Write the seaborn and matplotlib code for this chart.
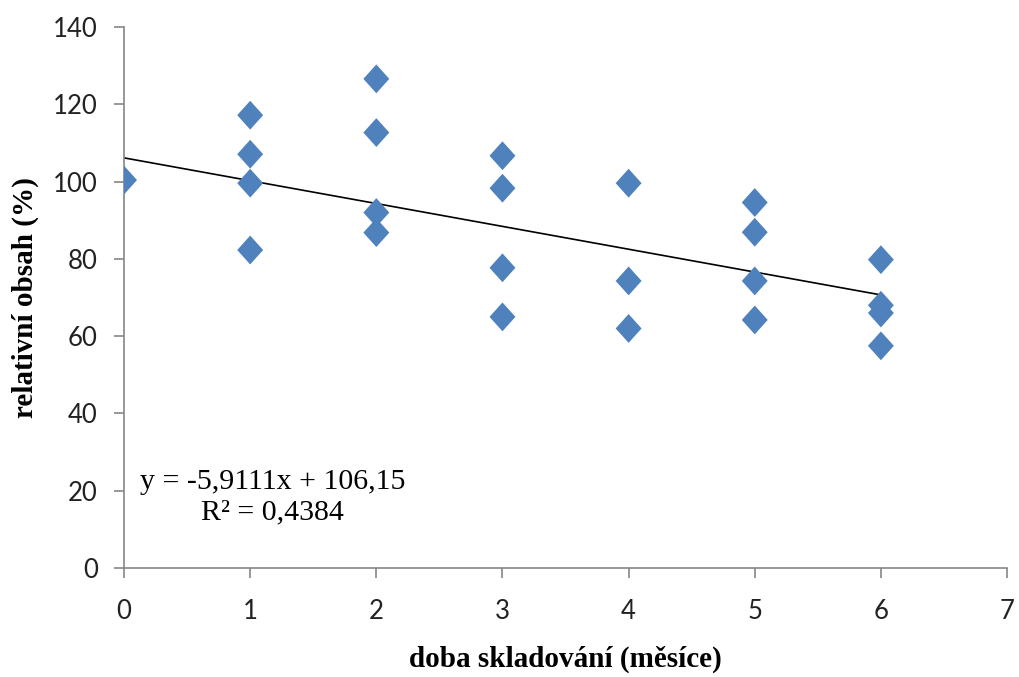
import numpy as np
import pandas as pd
import matplotlib
matplotlib.use("Agg")
import matplotlib.pyplot as plt
import seaborn as sns

# Data
months = [0, 1, 1, 1, 1, 2, 2, 2, 2, 3, 3, 3, 3, 4, 4, 4, 5, 5, 5, 5, 6, 6, 6, 6]
content = [100.4, 117.2, 107.1, 99.6, 82.3, 126.6, 112.7, 92.0, 86.8,
           106.7, 98.3, 77.7, 65.0, 99.6, 74.3, 62.0, 94.6, 86.9, 74.3, 64.2,
           79.8, 68.0, 66.0, 57.5]
slope = -5.9111
intercept = 106.15
r2_text = "0,4384"
x_ticks = [0, 1, 2, 3, 4, 5, 6, 7]
y_ticks = [0, 20, 40, 60, 80, 100, 120, 140]

df = pd.DataFrame({"x": months, "y": content})

sns.set_theme(style="white")
plt.rcParams["font.family"] = ["Lato", "DejaVu Sans"]

fig = plt.figure(figsize=(10.2, 6.77), dpi=100)
ax = fig.add_axes([0.1216, 0.161, 0.8657, 0.799])

diamond = [(0, 1), (0.9, 0), (0, -1), (-0.9, 0), (0, 1)]
sns.scatterplot(data=df, x="x", y="y", ax=ax, marker=diamond, s=430,
                color="#4F81BD", edgecolor="none", linewidth=0, zorder=3)

xl = np.array([min(months), max(months)])
sns.lineplot(x=xl, y=slope * xl + intercept, ax=ax, color="black",
             linewidth=1.2, zorder=2)

ax.set_xlim(0, 7)
ax.set_ylim(0, 140)
ax.set_xticks(x_ticks)
ax.set_yticks(y_ticks)
ax.tick_params(axis="both", which="major", direction="out", length=7,
               width=1.2, color="#868686", labelsize=18.5, labelcolor="#222222")
ax.tick_params(axis="x", pad=15)
ax.tick_params(axis="y", pad=12)
ax.xaxis.set_ticks_position("bottom")
ax.yaxis.set_ticks_position("left")

for side in ["top", "right"]:
    ax.spines[side].set_visible(False)
for side in ["left", "bottom"]:
    ax.spines[side].set_color("#868686")
    ax.spines[side].set_linewidth(1.2)

serif = ["Liberation Serif", "DejaVu Serif"]
ax.set_xlabel("doba skladování (měsíce)", fontsize=21, fontweight="bold",
              family=serif, labelpad=16, color="black")
ax.set_ylabel("relativní obsah (%)", fontsize=21, fontweight="bold",
              family=serif, labelpad=10, color="black")

eq = f"y = {str(slope).replace('.', ',')}x + {str(intercept).replace('.', ',')}\nR² = {r2_text}"
ax.text(1.18, 18.4, eq, fontsize=21.5, family=serif, ha="center", va="center",
        multialignment="center", linespacing=1.2, color="black")

fig.savefig("out.png", dpi=100, facecolor="white")
